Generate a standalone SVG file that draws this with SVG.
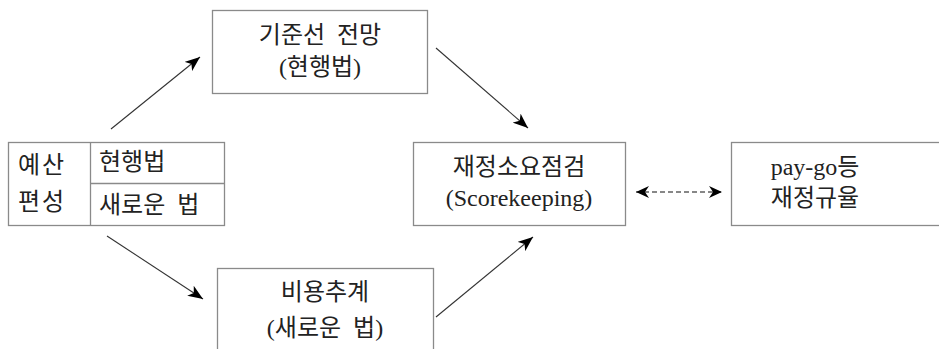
<svg xmlns="http://www.w3.org/2000/svg" width="939" height="349" viewBox="0 0 939 349">
<style>
.box{fill:#fff;stroke:#8a8a8a;stroke-width:1.3}
.t{font-family:"Liberation Serif","Noto Sans CJK KR",serif;font-size:24px;fill:#222;word-spacing:6px}
.c{text-anchor:middle}
.ln{stroke:#333;stroke-width:1.1;fill:none}
.dash{stroke:#111;stroke-dasharray:5,3}
</style>
<defs>
<marker id="ah" markerUnits="userSpaceOnUse" markerWidth="16" markerHeight="12" refX="15" refY="6" orient="auto-start-reverse">
<path d="M0,0 L15,6 L0,12 L4,6 z" fill="#000"/>
</marker>
<marker id="ahs" markerUnits="userSpaceOnUse" markerWidth="14" markerHeight="12" refX="13" refY="6" orient="auto-start-reverse">
<path d="M0,0 L13,6 L0,12 L4,6 z" fill="#000"/>
</marker>
</defs>
<rect width="939" height="349" fill="#fff"/>
<g id="budget">
<rect class="box" x="8.5" y="142.5" width="216" height="83"/>
<line class="box" x1="90.5" y1="142.5" x2="90.5" y2="225.5"/>
<line class="box" x1="90.5" y1="183.5" x2="224.5" y2="183.5"/>
<text class="t" x="18" y="173" letter-spacing="2">예산</text>
<text class="t" x="18" y="210" letter-spacing="2">편성</text>
<text class="t" x="99" y="170">현행법</text>
<text class="t" x="99" y="213">새로운 법</text>
</g>
<g id="baseline">
<rect class="box" x="212.5" y="10.5" width="215" height="83"/>
<text class="t c" x="320" y="43">기준선 전망</text>
<text class="t c" x="320" y="75">(현행법)</text>
</g>
<g id="costest">
<rect class="box" x="217.5" y="268.5" width="216" height="90"/>
<text class="t c" x="325" y="300">비용추계</text>
<text class="t c" x="325" y="336">(새로운 법)</text>
</g>
<g id="scorekeeping">
<rect class="box" x="413.5" y="142.5" width="212" height="83"/>
<text class="t c" x="519" y="175">재정소요점검</text>
<text class="t c" x="519" y="206">(Scorekeeping)</text>
</g>
<g id="paygo">
<rect class="box" x="731.5" y="142.5" width="220" height="83"/>
<text class="t c" x="815" y="175">pay-go등</text>
<text class="t c" x="815" y="206">재정규율</text>
</g>
<g id="connectors">
<line class="ln" x1="111" y1="129" x2="200" y2="57" marker-end="url(#ah)"/>
<line class="ln" x1="436" y1="48" x2="528" y2="128" marker-end="url(#ah)"/>
<line class="ln" x1="107" y1="236" x2="203" y2="299" marker-end="url(#ah)"/>
<line class="ln" x1="436" y1="317" x2="533" y2="237" marker-end="url(#ah)"/>
<line class="ln dash" x1="636" y1="192" x2="722" y2="192" marker-start="url(#ahs)" marker-end="url(#ahs)"/>
</g>
</svg>
